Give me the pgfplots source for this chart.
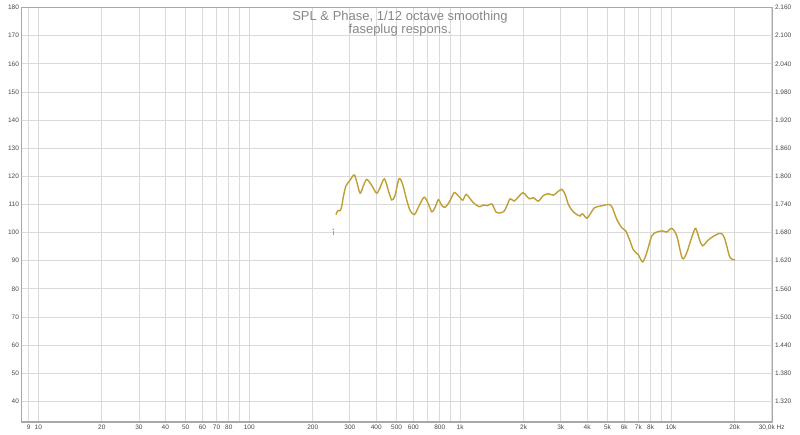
\documentclass[border=0pt]{standalone}
\usepackage{pgfplots}
\pgfplotsset{compat=1.18}
\usepackage{fontspec}
\setmainfont{Liberation Sans}
\definecolor{curve}{RGB}{192,158,52}
\definecolor{gridc}{RGB}{218,218,218}
\definecolor{framec}{RGB}{168,168,168}
\definecolor{labc}{RGB}{70,70,70}
\definecolor{titc}{RGB}{135,135,135}
\begin{document}
\begin{tikzpicture}[x=1pt,y=1pt]
\useasboundingbox (-21.5,-13) rectangle (778.5,422);
\begin{axis}[
  at={(0,0)}, anchor=south west,
  scale only axis, width=751pt, height=414.5pt,
  xmode=log, xmin=8.325, xmax=30270, ymin=32.7, ymax=180,
  axis line style={draw=framec, line width=1.6pt},
  grid=major, major grid style={draw=gridc, line width=0.8pt},
  tick style={draw=none},
  ytick={40,50,...,180},
  xtick={9,10,20,30,40,50,60,70,80,90,100,200,300,400,500,600,700,800,900,1000,2000,3000,4000,5000,6000,7000,8000,9000,10000,20000,30000},
  xticklabels={9,10,20,30,40,50,60,70,80,{},100,200,300,400,500,600,{},800,{},1k,2k,3k,4k,5k,6k,7k,8k,{},10k,20k,{30,0k Hz}},
  tick label style={font=\fontsize{6.5}{7}\selectfont, text=labc},
  xticklabel style={yshift=1pt},
  yticklabel style={xshift=1pt},
  /pgf/number format/assume math mode=true,
  clip=true,
]
\addplot[curve, line width=1.4pt, smooth, tension=0.5] coordinates {
(257.6,106.4) (263.3,107.8) (270,107.8) (275,109.6) (280,113.1) (288,116.7)
(300,118.5) (314.5,120.5) (323.8,117.9) (335.7,114) (348,116.7) (361,118.9)
(381.6,116.7) (402,114) (417.6,116.1) (437.7,119.1) (457,114.9) (474,111.6)
(491,113.1) (513,119.1) (533,117.3) (559,111.4) (580,107.8) (607,106.4)
(634,109) (675,112.6) (707,110.2) (734,107.4) (761,109) (789,111.7)
(819,109.6) (849,109) (887,110.8) (929,113.8) (946,114.2) (1000,112.4)
(1029,111.5) (1067,113.6) (1106,112.4) (1156,110.6) (1235,109.2) (1290,109.8)
(1348,109.6) (1413,110.2) (1481,107.3) (1547,107) (1616,107.6) (1663,109.4)
(1726,112) (1803,111.2) (1890,112.7) (1983,114.2) (2055,113.2) (2131,112)
(2226,112.4) (2350,111.2) (2482,113.2) (2621,113.8) (2768,113.3) (2891,114.4)
(3033,115.4) (3146,113.6) (3261,110) (3420,107.6) (3611,106.2) (3705,105.9)
(3800,106.7) (3986,105.1) (4130,106.5) (4330,108.8) (4608,109.4) (4867,109.8)
(5101,110) (5272,108.8) (5529,104.7) (5836,101.8) (6097,100.6) (6393,97)
(6625,93.9) (7000,92.1) (7340,89.6) (7671,92.9) (8100,98.8) (8554,100.2)
(9095,100.6) (9540,100.2) (10077,101.5) (10645,98.8) (11315,90.8) (11870,92.9)
(12305,96.5) (12995,101.4) (13326,100) (13715,97) (14125,95.3) (14650,96.5)
(15300,97.9) (15990,98.8) (16760,99.6) (17390,99.6) (17890,98.2) (18360,95.3)
(18900,91.7) (19395,90.6) (20110,90.3)
};
\addplot[curve, line width=0.8pt] coordinates {(250,99.1) (250,100.5)};
\addplot[curve, only marks, mark=*, mark size=0.5pt] coordinates {(250,101.2)};
\node[anchor=base, text=titc, font=\fontsize{13}{15}\selectfont] at (rel axis cs:0.504,0.9675) {SPL \& Phase, 1/12 octave smoothing};
\node[anchor=base, text=titc, font=\fontsize{13}{15}\selectfont] at (rel axis cs:0.504,0.9361) {faseplug respons.};
\end{axis}
\begin{axis}[
  at={(0,0)}, anchor=south west,
  scale only axis, width=751pt, height=414.5pt,
  xmode=log, xmin=8.325, xmax=30270, ymin=32.7, ymax=180,
  hide x axis,
  axis y line*=right,
  axis line style={draw=none},
  tick style={draw=none},
  ytick={40,50,...,180},
  yticklabels={1.320,1.380,1.440,1.500,1.560,1.620,1.680,1.740,1.800,1.860,1.920,1.980,2.040,2.100,2.160},
  tick label style={font=\fontsize{6.5}{7}\selectfont, text=labc},
  yticklabel style={xshift=-1pt},
]
\addplot[draw=none] coordinates {(100,100)};
\node[anchor=south east, inner sep=0pt, text=labc, font=\fontsize{5}{5}\selectfont] at ([xshift=-4pt,yshift=3.4pt]rel axis cs:0,1) {dB};
\node[anchor=south west, inner sep=0pt, text=labc, font=\fontsize{5}{5}\selectfont] at ([xshift=4pt,yshift=3.4pt]rel axis cs:1,1) {deg};
\end{axis}
\end{tikzpicture}
\end{document}
